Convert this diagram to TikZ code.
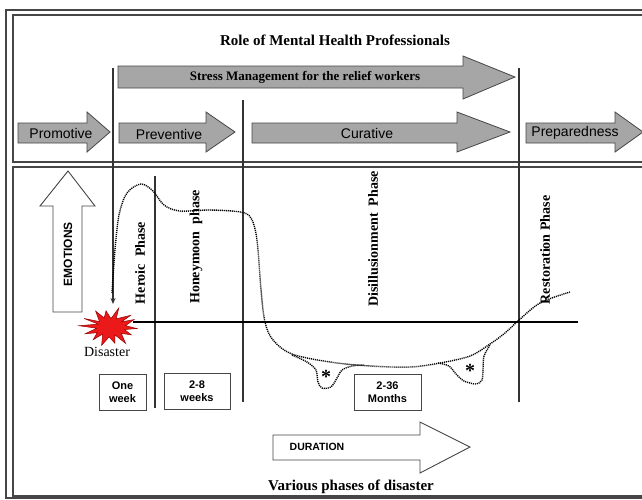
\documentclass[tikz,border=0pt]{standalone}
\usepackage{fontspec}
\setmainfont{Liberation Serif}
\setsansfont{Liberation Sans}
\usetikzlibrary{arrows.meta}
\definecolor{arrgray}{RGB}{166,166,166}
\definecolor{framegray}{RGB}{70,70,70}
\definecolor{burst}{RGB}{235,25,25}
\begin{document}
\begin{tikzpicture}[x=1pt,y=-1pt,
  frame/.style={draw=framegray,line width=1.1pt},
  garrow/.style={fill=arrgray,draw=framegray,line width=0.8pt},
  warrow/.style={fill=white,draw=framegray,line width=0.9pt},
  vline/.style={draw=black!80,line width=1.1pt},
  dotcurve/.style={draw=black,line width=1.4pt,dash pattern=on 1.1pt off 0.9pt},
  arrtext/.style={font=\sffamily\fontsize{14}{14}\selectfont,inner sep=0pt},
  phase/.style={font=\bfseries\fontsize{14}{14}\selectfont,rotate=90,inner sep=0pt},
  small/.style={font=\sffamily\bfseries\fontsize{11}{13}\selectfont,align=center,inner sep=0pt},
  boxed/.style={draw=framegray,line width=0.9pt,fill=white},
  aster/.style={font=\bfseries\fontsize{20}{20}\selectfont,inner sep=0pt}]
\useasboundingbox (0,0) rectangle (642,499);
\clip (0,0) rectangle (642,499);
\fill[white] (0,0) rectangle (642,499);
% frames
\draw[frame] (6,10) rectangle (660,498);
\draw[frame] (13,15) rectangle (655,162);
\draw[frame] (13,167) rectangle (655,496);
% title
\node[font=\bfseries\fontsize{15}{16}\selectfont,inner sep=0pt] (title) at (335,40) {Role of Mental Health Professionals};
% stress arrow
\draw[garrow] (118,66)--(463,66)--(463,56)--(515,77)--(463,99)--(463,88)--(118,88)--cycle;
\node[font=\bfseries\fontsize{13}{14}\selectfont,inner sep=0pt] (stress) at (305,77) {Stress Management for the relief workers};
% top row arrows
\draw[garrow] (18,123)--(87,123)--(87,112)--(110,132)--(87,152)--(87,143)--(18,143)--cycle;
\node[arrtext] (promo) at (61,133) {Promotive};
\draw[garrow] (119,123)--(206,123)--(206,112)--(235,132)--(206,152)--(206,143)--(119,143)--cycle;
\node[arrtext] (prev) at (169,134) {Preventive};
\draw[garrow] (252,123)--(457,123)--(457,112)--(510,132)--(457,152)--(457,143)--(252,143)--cycle;
\node[arrtext] (cur) at (367,133) {Curative};
\draw[garrow] (526,123)--(615,123)--(615,112)--(643,132)--(615,152)--(615,143)--(526,143)--cycle;
\node[arrtext] (prep) at (575,133) {Preparedness};
% vertical lines
\coordinate (l1a) at (113,68); \coordinate (l1b) at (113,304);
\coordinate (l2a) at (243,100); \coordinate (l2b) at (243,402);
\coordinate (l3a) at (519,68); \coordinate (l3b) at (519,402);
\coordinate (l4a) at (155,176); \coordinate (l4b) at (155,408);
\draw[vline,-{Stealth[length=6pt,width=5pt]}] (l1a) -- (l1b);
\draw[vline] (l2a) -- (l2b);
\draw[vline] (l3a) -- (l3b);
\draw[vline] (l4a) -- (l4b);
% emotions arrow
\draw[warrow] (53,312)--(53,206)--(40,206)--(68,171)--(95,206)--(82,206)--(82,312)--cycle;
\node[font=\sffamily\bfseries\fontsize{12}{12}\selectfont,rotate=90,inner sep=0pt] (emo) at (68,254) {EMOTIONS};
% baseline
\coordinate (b1) at (133,322); \coordinate (b2) at (578,322);
\draw[black,line width=2.2pt] (b1) -- (b2);
% disaster burst
\draw[fill=burst,draw=red!60!black,line width=0.5pt] plot[samples=29,domain=0:28,variable=\k]
  ({110+(mod(\k,2)==0 ? 28 : 14)*(1+0.12*sin(\k*137))*cos(\k*360/28+4)},
   {327+(mod(\k,2)==0 ? 18 : 9)*(1+0.12*cos(\k*97))*sin(\k*360/28+4)}) -- cycle;
\node[font=\fontsize{14}{14}\selectfont,inner sep=0pt] (dis) at (107,352) {Disaster};
% phase labels
\node[phase] (hero) at (140,263) {Heroic\ \ Phase};
\node[phase] (honey) at (196,247) {Honeymoon\ \ phase};
\node[phase] (disil) at (373,239) {Disillusionment\ \ Phase};
\node[phase] (resto) at (545,250) {Restoration Phase};
% dotted curve
\draw[dotcurve] plot[smooth,tension=0.55] coordinates {(112,293) (115,250) (119,215) (127,193) (141,184) (153,191) (164,205) (180,211) (210,210) (240,212) (251,218) (257,240) (261,290) (265,322) (273,340) (292,354) (330,362) (370,366) (410,367) (440,363) (470,356) (490,344) (505,333) (518,321) (540,303) (570,292)};
\draw[dotcurve] plot[smooth,tension=0.5] coordinates {(292,355) (307,362) (316,370) (318,382) (322,388) (331,387) (337,378) (342,370) (352,366) (364,365)};
\draw[dotcurve] plot[smooth,tension=0.5] coordinates {(438,363) (449,366) (456,374) (464,381) (476,384) (482,380) (483,368) (484,356) (490,345)};
\node[aster] (ast1) at (326,377) {*};
\node[aster] (ast2) at (470,371) {*};
% duration boxes
\node[boxed,small,minimum width=47pt,minimum height=36pt] (oneweek) at (122.5,392) {One\\week};
\node[boxed,small,minimum width=66pt,minimum height=36pt] (weeks) at (197,391) {2-8\\weeks};
\node[boxed,small,minimum width=67pt,minimum height=36pt] (months) at (387.5,392) {2-36\\Months};
% duration arrow
\draw[warrow] (273,435)--(420,435)--(420,422)--(470,447)--(420,473)--(420,460)--(273,460)--cycle;
\node[font=\sffamily\bfseries\fontsize{10.5}{10}\selectfont,inner sep=0pt] (dur) at (317,447) {DURATION};
\node[font=\bfseries\fontsize{15}{16}\selectfont,inner sep=0pt] (various) at (351,487) {Various phases of disaster};
\end{tikzpicture}
\end{document}
